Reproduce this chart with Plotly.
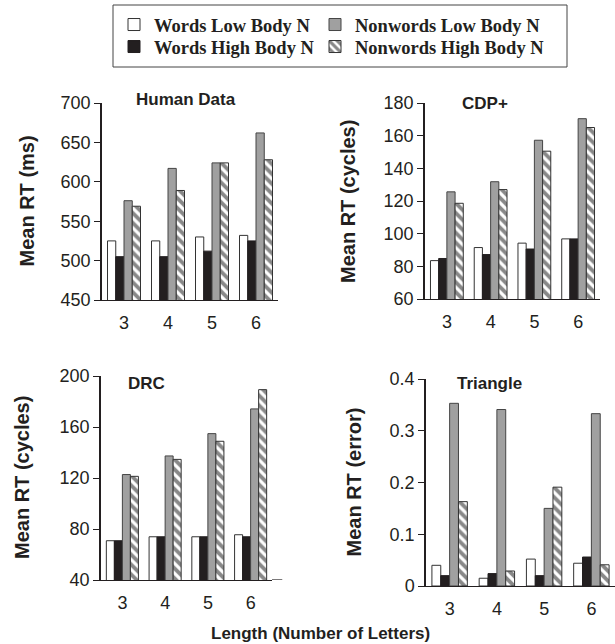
import plotly.graph_objects as go

categories = ["3", "4", "5", "6"]
series_names = ["Words Low Body N", "Words High Body N", "Nonwords Low Body N", "Nonwords High Body N"]

human_wl = [525, 525, 530, 532]
human_wh = [505, 505, 512, 525]
human_nl = [576, 617, 624, 662]
human_nh = [569, 589, 624, 628]

cdp_wl = [83.5, 91.5, 94.2, 96.8]
cdp_wh = [84.8, 87.2, 90.6, 96.8]
cdp_nl = [125.6, 131.8, 157.2, 170.4]
cdp_nh = [118.6, 127.0, 150.5, 165.0]

drc_wl = [70.8, 73.9, 73.9, 75.5]
drc_wh = [70.8, 73.9, 73.9, 73.9]
drc_nl = [122.7, 137.3, 154.8, 174.2]
drc_nh = [121.3, 134.6, 148.8, 189.3]

tri_wl = [0.040, 0.015, 0.052, 0.044]
tri_wh = [0.020, 0.024, 0.020, 0.056]
tri_nl = [0.353, 0.341, 0.150, 0.333]
tri_nh = [0.163, 0.029, 0.191, 0.041]

panel_titles = ["Human Data", "CDP+", "DRC", "Triangle"]
y_titles = ["Mean RT (ms)", "Mean RT (cycles)", "Mean RT (cycles)", "Mean RT (error)"]
x_title = "Length (Number of Letters)"

panels = [
    (human_wl, human_wh, human_nl, human_nh),
    (cdp_wl, cdp_wh, cdp_nl, cdp_nh),
    (drc_wl, drc_wh, drc_nl, drc_nh),
    (tri_wl, tri_wh, tri_nl, tri_nh),
]

W, H = 615, 644
# pixel boxes: (x0, x1, ytop, ybottom)
boxes = [
    (102, 278, 103, 300),
    (425, 600, 103, 299),
    (101, 272, 376, 580),
    (426, 615, 379, 586),
]
y_ranges = [[450, 700], [60, 180], [40, 200], [0, 0.4]]
y_ticks = [
    [450, 500, 550, 600, 650, 700],
    [60, 80, 100, 120, 140, 160, 180],
    [40, 80, 120, 160, 200],
    [0, 0.1, 0.2, 0.3, 0.4],
]
y_ticktext = [
    None, None, None, ["0", "0.1", "0.2", "0.3", "0.4"],
]
title_pos = [(186, 100), (485, 103), (146, 383), (489, 383)]
ytitle_x = [26, 348, 22, 353]

FONT = "Arial, Liberation Sans, sans-serif"
LEG_FONT = "Times New Roman, Liberation Serif, serif"

styles = [
    dict(color="white", pattern=None),
    dict(color="#231f20", pattern=None),
    dict(color="#a0a0a0", pattern=None),
    dict(color="white", pattern=dict(shape="\\", fgcolor="#111111", bgcolor="white", size=7, solidity=0.55)),
]
legend_ids = ["legend", "legend2", "legend3", "legend4"]
# legend slot positions (left x px, centre y px)
legend_pos = [(114, 25), (114, 47), (315, 25), (315, 47)]
line_colors = ["#333333", "#231f20", "#444444", "#333333"]

fig = go.Figure()
for p, vals in enumerate(panels):
    xa = "x" if p == 0 else f"x{p+1}"
    ya = "y" if p == 0 else f"y{p+1}"
    for s in range(4):
        marker = dict(color=styles[s]["color"], line=dict(color=line_colors[s], width=1))
        if styles[s]["pattern"]:
            marker["pattern"] = styles[s]["pattern"]
        fig.add_trace(go.Bar(
            x=categories, y=vals[s], name=series_names[s],
            marker=marker, xaxis=xa, yaxis=ya,
            showlegend=(p == 0), legend=legend_ids[s],
        ))

leg_common = dict(
    orientation="v", yanchor="middle", xanchor="left",
    borderwidth=0, bgcolor="rgba(0,0,0,0)",
    font=dict(family=LEG_FONT, size=18.5, color="#231f20", weight="bold"),
    traceorder="normal", itemclick=False, itemdoubleclick=False,
)

layout = dict(
    width=W, height=H,
    margin=dict(l=0, r=0, t=0, b=0, autoexpand=False),
    paper_bgcolor="white", plot_bgcolor="white",
    barmode="group", bargap=0.25, bargroupgap=0,
    font=dict(family=FONT, color="#231f20"),
    showlegend=True,
    shapes=[
        dict(
            type="rect", xref="paper", yref="paper",
            x0=113 / W, x1=567 / W, y0=1 - 67 / H, y1=1 - 5 / H,
            line=dict(color="#444444", width=1), fillcolor="rgba(0,0,0,0)", layer="below",
        ),
        # the DRC panel's baseline runs a little past its last group
        dict(
            type="line", xref="x3 domain", yref="y3",
            x0=1, x1=1.06, y0=y_ranges[2][0], y1=y_ranges[2][0],
            line=dict(color="#231f20", width=1.2),
        ),
    ],
)
for s in range(4):
    lx, ly = legend_pos[s]
    layout[legend_ids[s]] = dict(x=lx / W, y=1 - ly / H, **leg_common)

for p in range(4):
    x0, x1, yt, yb = boxes[p]
    sfx = "" if p == 0 else str(p + 1)
    layout[f"xaxis{sfx}"] = dict(
        domain=[x0 / W, x1 / W], anchor=f"y{sfx}",
        showline=True, linecolor="#231f20", linewidth=1.2,
        ticks="outside", ticklen=6, tickcolor="rgba(0,0,0,0)",
        showgrid=False, zeroline=False,
        tickfont=dict(size=18, family=FONT, color="#231f20"),
        fixedrange=True,
    )
    ya = dict(
        domain=[1 - yb / H, 1 - yt / H], anchor=f"x{sfx}",
        range=y_ranges[p], tickvals=y_ticks[p],
        showline=True, linecolor="#231f20", linewidth=1.5,
        ticks="outside", ticklen=6, tickcolor="#231f20", tickwidth=1.2,
        showgrid=False, zeroline=False,
        tickfont=dict(size=18, family=FONT, color="#231f20"),
        fixedrange=True,
    )
    if y_ticktext[p]:
        ya["ticktext"] = y_ticktext[p]
    layout[f"yaxis{sfx}"] = ya

annotations = []
for p in range(4):
    tx, ty = title_pos[p]
    annotations.append(dict(
        text=panel_titles[p], x=tx / W, y=1 - ty / H, xref="paper", yref="paper",
        showarrow=False, xanchor="center", yanchor="middle",
        font=dict(size=17, family=FONT, color="#231f20", weight="bold"),
    ))
    x0, x1, yt, yb = boxes[p]
    annotations.append(dict(
        text=y_titles[p], x=ytitle_x[p] / W, y=1 - ((yt + yb) / 2) / H,
        xref="paper", yref="paper", showarrow=False, textangle=-90,
        xanchor="center", yanchor="middle",
        font=dict(size=20, family=FONT, color="#231f20", weight="bold"),
    ))
annotations.append(dict(
    text=x_title, x=320 / W, y=1 - 633 / H, xref="paper", yref="paper",
    showarrow=False, xanchor="center", yanchor="middle",
    font=dict(size=17, family=FONT, color="#231f20", weight="bold"),
))
layout["annotations"] = annotations

fig.update_layout(**layout)
fig.write_html(
    "out.html",
    config={"displayModeBar": False},
    post_script="document.body.style.margin='0';document.body.style.overflow='hidden';",
)
